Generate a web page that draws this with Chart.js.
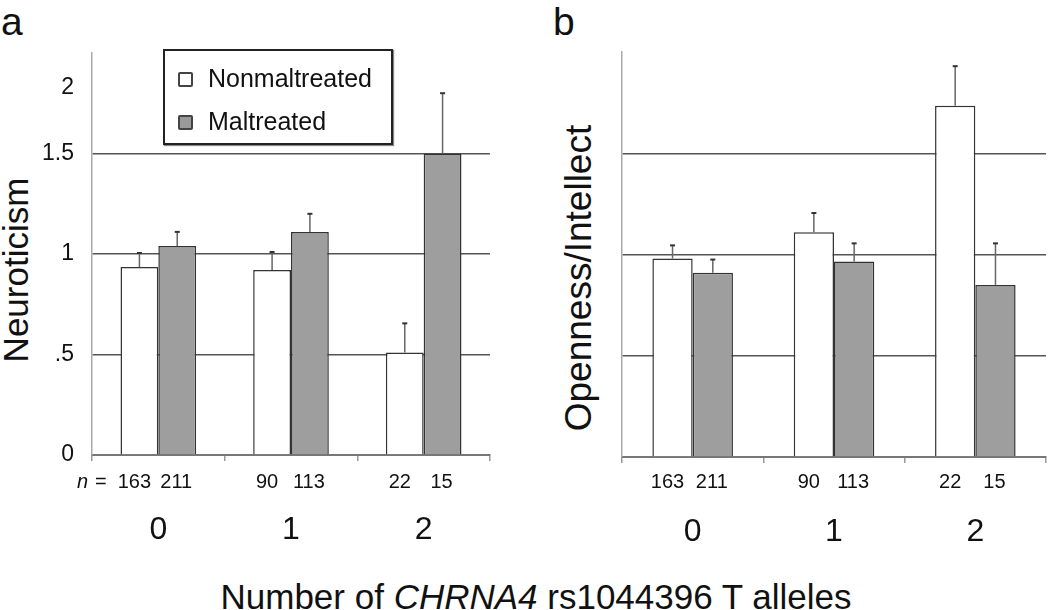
<!DOCTYPE html>
<html><head><meta charset="utf-8">
<script src="https://cdn.jsdelivr.net/npm/chart.js@4"></script>
<style>
body{margin:0;background:#fff;width:1050px;height:610px;overflow:hidden;position:relative;font-family:"Liberation Sans",Arial,sans-serif;color:#111}
.abs{position:absolute;white-space:nowrap;line-height:1}
canvas{position:absolute;top:0}
.rot{transform:translate(-50%,-50%) rotate(-90deg);transform-origin:center}
.legend{position:absolute;left:163px;top:49px;width:230px;height:96px;border:2px solid #222;box-sizing:border-box;background:#fff;box-shadow:1px 1px 1px #888}
.mk{position:absolute;width:11px;height:11px;border:2px solid #444;border-radius:2px}
.lt{position:absolute;font-size:25px;line-height:1}
</style></head><body>

<div class="abs" style="left:1px;top:2px;font-size:39px">a</div>
<div class="abs" style="left:553px;top:2px;font-size:39px">b</div>

<div class="abs rot" style="left:15px;top:270px;font-size:35px">Neuroticism</div>
<div class="abs rot" style="left:578px;top:278px;font-size:37px">Openness/Intellect</div>

<div class="abs" style="left:0;width:1072px;top:579px;text-align:center;font-size:35px">Number of <i>CHRNA4</i> rs1044396 T alleles</div>

<canvas id="c1" width="520" height="610" style="left:0"></canvas>
<canvas id="c2" width="520" height="610" style="left:530px"></canvas>

<div class="legend">
  <div class="mk" style="left:13px;top:21px;background:#fff"></div>
  <div class="lt" style="left:43px;top:15px">Nonmaltreated</div>
  <div class="mk" style="left:13px;top:64px;background:#9a9a9a"></div>
  <div class="lt" style="left:43px;top:58px">Maltreated</div>
</div>

<script>
// ---- data ----
const groups = ['0', '1', '2'];
const seriesNames = ['Nonmaltreated', 'Maltreated'];

const neuroNon = [0.935, 0.92, 0.51];
const neuroMal = [1.04, 1.11, 1.5];
const neuroNonErr = [0.07, 0.09, 0.145];
const neuroMalErr = [0.07, 0.09, 0.30];

const openNon = [0.98, 1.11, 1.735];
const openMal = [0.91, 0.965, 0.85];
const openNonErr = [0.065, 0.095, 0.195];
const openMalErr = [0.065, 0.09, 0.205];

const nNon = [163, 90, 22];
const nMal = [211, 113, 15];

const neuroTickValues = [0, 0.5, 1, 1.5, 1.83];
const neuroTickLabels = ['0', '.5', '1', '1.5', '2'];
const openTickValues = [0, 0.5, 1, 1.5];
const openTickLabels = ['0', '.5', '1', '1.5'];
const gridValues = [0.5, 1, 1.5];

const FONT = '"Liberation Sans", Arial, sans-serif';
Chart.defaults.font.family = FONT;

const errorBars = {
  id: 'errorBars',
  afterDatasetsDraw(chart) {
    const ctx = chart.ctx, ys = chart.scales.y;
    ctx.save();
    chart.data.datasets.forEach((ds, i) => {
      const meta = chart.getDatasetMeta(i);
      meta.data.forEach((el, j) => {
        const top = ys.getPixelForValue(ds.data[j] + ds.errors[j]);
        ctx.strokeStyle = '#666'; ctx.lineWidth = 1.5;
        ctx.beginPath(); ctx.moveTo(el.x, el.y); ctx.lineTo(el.x, top); ctx.stroke();
        ctx.strokeStyle = '#333'; ctx.lineWidth = 2;
        ctx.beginPath(); ctx.moveTo(el.x - 2.5, top); ctx.lineTo(el.x + 2.5, top); ctx.stroke();
      });
    });
    ctx.restore();
  }
};

const nLabels = {
  id: 'nLabels',
  afterDraw(chart, args, opts) {
    const ctx = chart.ctx;
    ctx.save();
    ctx.fillStyle = '#111';
    ctx.textBaseline = 'middle';
    ctx.font = '20px ' + FONT;
    ctx.textAlign = 'center';
    chart.data.datasets.forEach((ds, i) => {
      const meta = chart.getDatasetMeta(i);
      meta.data.forEach((el, j) => {
        ctx.fillText(String(ds.counts[j]), el.x + (i === 0 ? -5 : -1), opts.y);
      });
    });
    if (opts.prefix) {
      ctx.textAlign = 'left';
      ctx.font = 'italic 20px ' + FONT;
      ctx.fillText('n', 77, opts.y);
      ctx.font = '20px ' + FONT;
      ctx.fillText('=', 95, opts.y);
    }
    ctx.restore();
  }
};

function makeChart(id, non, mal, nonErr, malErr, tickVals, tickLabels, showLabels, pad, xh, prefix) {
  return new Chart(document.getElementById(id), {
    type: 'bar',
    data: {
      labels: groups,
      datasets: [
        { label: seriesNames[0], data: non, errors: nonErr, counts: nNon,
          backgroundColor: '#ffffff', borderColor: '#333', borderWidth: 1.5,
          barPercentage: 1, categoryPercentage: 0.57 },
        { label: seriesNames[1], data: mal, errors: malErr, counts: nMal,
          backgroundColor: '#9e9e9e', borderColor: '#333', borderWidth: 1.5,
          barPercentage: 1, categoryPercentage: 0.57 }
      ]
    },
    options: {
      responsive: false,
      animation: false,
      layout: { padding: pad },
      plugins: { legend: { display: false }, tooltip: { enabled: false }, nLabels: { y: 482, prefix: prefix } },
      scales: {
        x: {
          afterFit: s => { s.height = xh; },
          grid: { offset: true, drawOnChartArea: false, drawTicks: true, tickLength: 6, color: '#999', lineWidth: 1.5 },
          border: { color: '#777', width: 2 },
          ticks: { font: { size: 32 }, color: '#111', padding: 50 }
        },
        y: {
          min: 0, max: 2,
          afterBuildTicks: s => { s.ticks = tickVals.map(v => ({ value: v })); },
          afterFit: s => { s.width = 92; },
          grid: {
            color: c => (c.tick && gridValues.includes(c.tick.value)) ? '#555' : 'rgba(0,0,0,0)',
            lineWidth: 1.5, drawTicks: false
          },
          border: { color: '#aaa', width: 1.5 },
          ticks: { display: showLabels, callback: (v, i) => tickLabels[i], font: { size: 23 }, color: '#111', padding: 18 }
        }
      }
    },
    plugins: [errorBars, nLabels]
  });
}

makeChart('c1', neuroNon, neuroMal, neuroNonErr, neuroMalErr, neuroTickValues, neuroTickLabels, true,
  { top: 53, left: 0, right: 30, bottom: 0 }, 155, true);
makeChart('c2', openNon, openMal, openNonErr, openMalErr, openTickValues, openTickLabels, false,
  { top: 52, left: 0, right: 4, bottom: 0 }, 153, false);
</script>
</body></html>
